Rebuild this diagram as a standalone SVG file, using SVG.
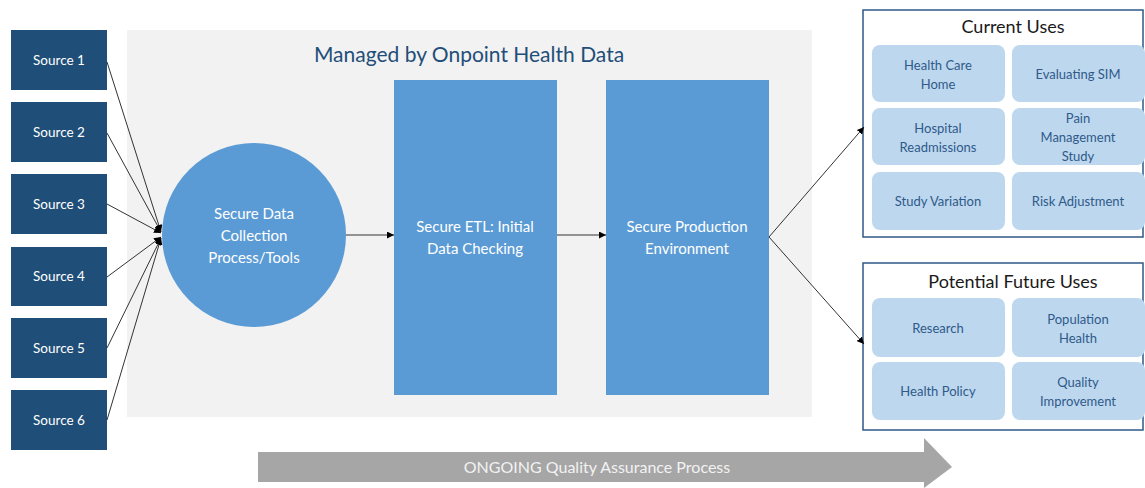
<svg xmlns="http://www.w3.org/2000/svg" width="1145" height="488" viewBox="0 0 1145 488">
<style>
.src{fill:#1f4e79}
.srct{fill:#ffffff;font-family:Lato,"Liberation Sans",sans-serif;font-size:13.5px;text-anchor:middle}
.proc{fill:#5b9bd5}
.proct{fill:#ffffff;font-family:Lato,"Liberation Sans",sans-serif;font-size:15px;text-anchor:middle}
.grp{fill:#ffffff;stroke:#2e5a87;stroke-width:1.5}
.grpt{fill:#1a1a1a;font-family:Lato,"Liberation Sans",sans-serif;font-size:18px;text-anchor:middle}
.cell{fill:#bdd7ee}
.cellt{fill:#2f5a8a;font-family:Lato,"Liberation Sans",sans-serif;font-size:13px;text-anchor:middle}
.conn{stroke:#333333;stroke-width:1;fill:none;marker-end:url(#ah)}
</style>
<defs>
<marker id="ah" viewBox="0 0 10 10" refX="10" refY="5" markerWidth="7" markerHeight="7" markerUnits="userSpaceOnUse" orient="auto">
<path d="M0,0 L10,5 L0,10 z" fill="#000000"/>
</marker>
</defs>
<rect width="1145" height="488" fill="#ffffff"/>
<g id="panel">
<rect x="127" y="30" width="685" height="387" fill="#f2f2f2"/>
<text x="469" y="62" fill="#1f4e79" font-family="Lato,'Liberation Sans',sans-serif" font-size="21" text-anchor="middle">Managed by Onpoint Health Data</text>
</g>
<g id="source1"><rect class="src" x="11" y="30" width="96" height="60"/><text class="srct" x="59" y="64.5">Source 1</text></g>
<g id="source2"><rect class="src" x="11" y="102" width="96" height="60"/><text class="srct" x="59" y="136.5">Source 2</text></g>
<g id="source3"><rect class="src" x="11" y="174" width="96" height="60"/><text class="srct" x="59" y="208.5">Source 3</text></g>
<g id="source4"><rect class="src" x="11" y="247" width="96" height="59"/><text class="srct" x="59" y="281">Source 4</text></g>
<g id="source5"><rect class="src" x="11" y="318" width="96" height="60"/><text class="srct" x="59" y="352.5">Source 5</text></g>
<g id="source6"><rect class="src" x="11" y="390" width="96" height="60"/><text class="srct" x="59" y="424.5">Source 6</text></g>
<g id="collection">
<circle class="proc" cx="254" cy="235" r="92"/>
<text class="proct" x="254" y="219">Secure Data</text>
<text class="proct" x="254" y="241">Collection</text>
<text class="proct" x="254" y="263">Process/Tools</text>
</g>
<g id="etl">
<rect class="proc" x="394" y="80" width="163" height="315"/>
<text class="proct" x="475" y="232">Secure ETL: Initial</text>
<text class="proct" x="475" y="254">Data Checking</text>
</g>
<g id="production">
<rect class="proc" x="606" y="80" width="163" height="315"/>
<text class="proct" x="687" y="232">Secure Production</text>
<text class="proct" x="687" y="254">Environment</text>
</g>
<g id="current-uses">
<rect class="grp" x="863" y="10" width="280" height="227"/>
<text class="grpt" x="1013" y="33">Current Uses</text>
<rect class="cell" x="872" y="45" width="133" height="57" rx="8"/>
<text class="cellt" x="938" y="70">Health Care</text><text class="cellt" x="938" y="89">Home</text>
<rect class="cell" x="1012" y="45" width="133" height="57" rx="8"/>
<text class="cellt" x="1078" y="78.5">Evaluating SIM</text>
<rect class="cell" x="872" y="108" width="133" height="57" rx="8"/>
<text class="cellt" x="938" y="133">Hospital</text><text class="cellt" x="938" y="152">Readmissions</text>
<rect class="cell" x="1012" y="108" width="133" height="57" rx="8"/>
<text class="cellt" x="1078" y="123">Pain</text><text class="cellt" x="1078" y="142">Management</text><text class="cellt" x="1078" y="161">Study</text>
<rect class="cell" x="872" y="172" width="133" height="58" rx="8"/>
<text class="cellt" x="938" y="205.5">Study Variation</text>
<rect class="cell" x="1012" y="172" width="133" height="58" rx="8"/>
<text class="cellt" x="1078" y="205.5">Risk Adjustment</text>
</g>
<g id="future-uses">
<rect class="grp" x="863" y="263" width="280" height="167"/>
<text class="grpt" x="1013" y="288">Potential Future Uses</text>
<rect class="cell" x="872" y="298" width="133" height="59" rx="8"/>
<text class="cellt" x="938" y="332.5">Research</text>
<rect class="cell" x="1012" y="298" width="133" height="59" rx="8"/>
<text class="cellt" x="1078" y="323.5">Population</text><text class="cellt" x="1078" y="342.5">Health</text>
<rect class="cell" x="872" y="362" width="133" height="58" rx="8"/>
<text class="cellt" x="938" y="396">Health Policy</text>
<rect class="cell" x="1012" y="362" width="133" height="58" rx="8"/>
<text class="cellt" x="1078" y="387">Quality</text><text class="cellt" x="1078" y="406">Improvement</text>
</g>
<g id="qa-process">
<path d="M258,452 L924,452 L924,438 L952,467 L924,488 L924,482 L258,482 z" fill="#a6a6a6"/>
<text x="597" y="472.5" fill="#f2f2f2" font-family="Lato,'Liberation Sans',sans-serif" font-size="16" text-anchor="middle">ONGOING Quality Assurance Process</text>
</g>
<g id="connectors">
<line class="conn" x1="107" y1="62" x2="161" y2="232"/>
<line class="conn" x1="107" y1="133" x2="161" y2="232"/>
<line class="conn" x1="107" y1="204" x2="161" y2="233"/>
<line class="conn" x1="107" y1="277" x2="161" y2="237"/>
<line class="conn" x1="107" y1="348" x2="161" y2="238"/>
<line class="conn" x1="107" y1="420" x2="161" y2="238"/>
<line class="conn" x1="346" y1="235" x2="394" y2="235"/>
<line class="conn" x1="557" y1="235" x2="606" y2="235"/>
<line class="conn" x1="769" y1="237" x2="864" y2="127"/>
<line class="conn" x1="769" y1="237" x2="864" y2="344"/>
</g>
</svg>
